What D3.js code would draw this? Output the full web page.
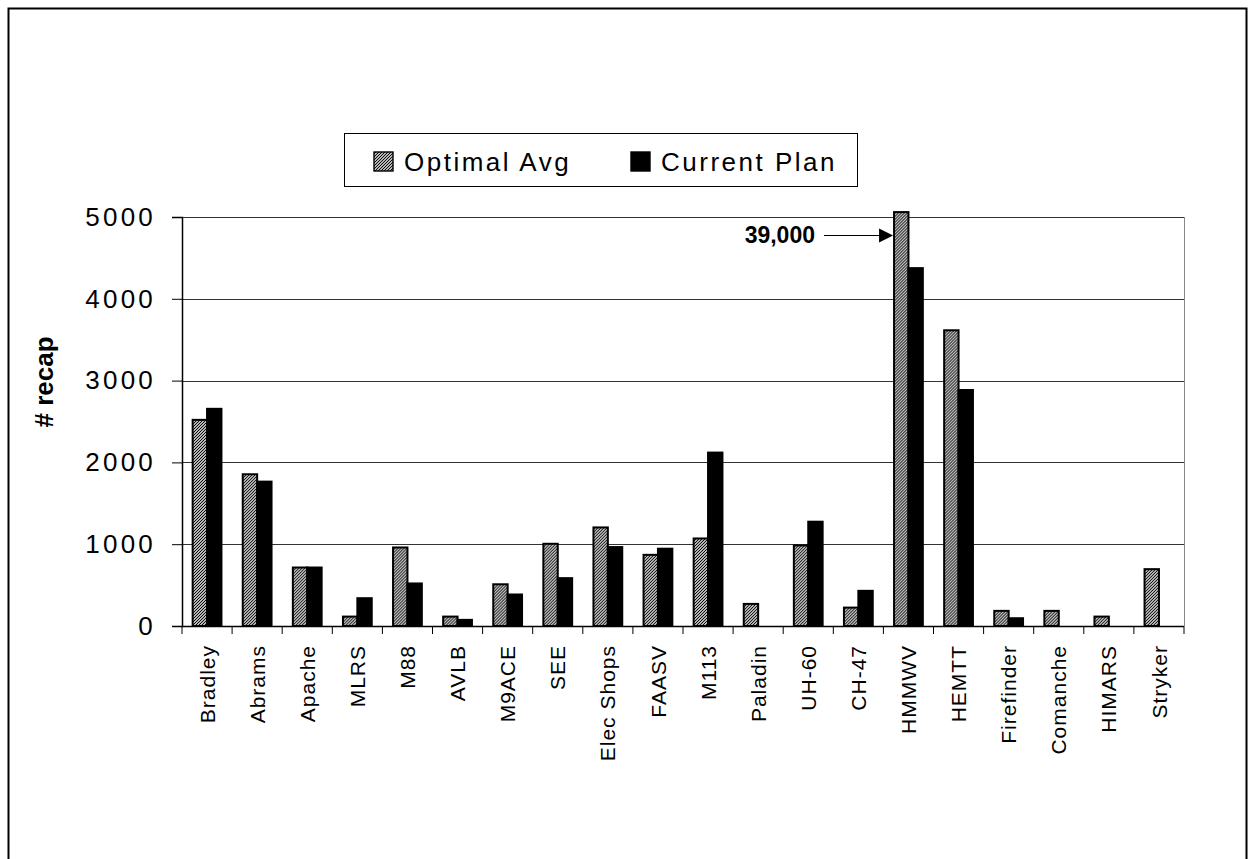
<!DOCTYPE html>
<html>
<head>
<meta charset="utf-8">
<script src="https://cdn.jsdelivr.net/npm/d3@7"></script>
<style>
  html, body { margin: 0; padding: 0; background: #fff; }
  svg { display: block; font-family: Arial, "Liberation Sans", sans-serif; }
</style>
</head>
<body>
<svg id="chart" width="1253" height="859"></svg>
<script>
// chart data
const categories = ["Bradley", "Abrams", "Apache", "MLRS", "M88", "AVLB", "M9ACE", "SEE", "Elec Shops", "FAASV",
                    "M113", "Paladin", "UH-60", "CH-47", "HMMWV", "HEMTT", "Firefinder", "Comanche", "HIMARS", "Stryker"];
const optimalAvg = [2520, 1855, 715, 115, 960, 115, 510, 1005, 1205, 870,
                    1070, 270, 985, 225, 39000, 3615, 185, 185, 115, 695];
const currentPlan = [2655, 1765, 715, 340, 520, 75, 385, 585, 965, 945,
                     2120, 0, 1275, 430, 4375, 2885, 95, 0, 0, 0];
const seriesNames = ["Optimal Avg", "Current Plan"];
const yTicks = [0, 1000, 2000, 3000, 4000, 5000];
const bigLabel = "39,000";

(function() {
  const svg = d3.select("#chart");

  // hatch pattern for the optimal bars
  const defs = svg.append("defs");
  const pat = defs.append("pattern")
    .attr("id", "hatch")
    .attr("patternUnits", "userSpaceOnUse")
    .attr("width", 3).attr("height", 3);
  pat.append("rect").attr("width", 3).attr("height", 3).attr("fill", "#fff");
  pat.append("path")
    .attr("d", "M-1,1 l2,-2 M0,3 l3,-3 M2,4 l2,-2")
    .attr("stroke", "#000").attr("stroke-width", 1.1);

  // outer frame
  svg.append("path")
    .attr("d", "M8.5,870 V8.5 H1246.5 V870")
    .attr("fill", "none").attr("stroke", "#000").attr("stroke-width", 2);

  const left = 182, right = 1184, top = 217, bottom = 626;

  const x = d3.scaleBand().domain(categories).range([left, right]).paddingInner(0).paddingOuter(0);
  const xs = d3.scaleBand().domain(seriesNames).range([0, x.bandwidth()]).paddingInner(0).paddingOuter(0.74);
  const y = d3.scaleLinear().domain([0, 5000]).range([bottom, top]);

  // gridlines
  svg.append("g").selectAll("line")
    .data(yTicks.filter(d => d > 0))
    .enter().append("line")
    .attr("x1", left).attr("x2", right)
    .attr("y1", d => Math.round(y(d)) + 0.5).attr("y2", d => Math.round(y(d)) + 0.5)
    .attr("stroke", "#333").attr("stroke-width", 1);

  // right edge of plot area
  svg.append("line")
    .attr("x1", right + 0.5).attr("x2", right + 0.5)
    .attr("y1", top).attr("y2", bottom)
    .attr("stroke", "#888").attr("stroke-width", 1);

  // bars
  const groups = svg.append("g").selectAll("g")
    .data(categories)
    .enter().append("g")
    .attr("transform", d => `translate(${x(d)},0)`);

  groups.append("rect")
    .attr("x", xs("Optimal Avg"))
    .attr("width", xs.bandwidth())
    .attr("y", (d, i) => Math.max(y(optimalAvg[i]), y(5060)))
    .attr("height", (d, i) => bottom - Math.max(y(optimalAvg[i]), y(5060)))
    .attr("fill", "url(#hatch)")
    .attr("stroke", "#000").attr("stroke-width", 2);

  groups.filter((d, i) => currentPlan[i] > 0).append("rect")
    .attr("x", xs("Current Plan"))
    .attr("width", xs.bandwidth())
    .attr("y", d => y(currentPlan[categories.indexOf(d)]))
    .attr("height", d => bottom - y(currentPlan[categories.indexOf(d)]))
    .attr("fill", "#000")
    .attr("stroke", "#000").attr("stroke-width", 2);

  // y axis
  const yAxis = d3.axisLeft(y).tickValues(yTicks).tickSize(10).tickPadding(16).tickFormat(d3.format("d"));
  const yg = svg.append("g").attr("transform", `translate(${left},0)`).call(yAxis);
  yg.select(".domain").attr("stroke", "#000").attr("stroke-width", 1.5);
  yg.selectAll(".tick line").attr("stroke", "#000");
  yg.selectAll(".tick text")
    .attr("fill", "#000")
    .style("font-size", "26px")
    .style("letter-spacing", "3.2px")
    .style("font-family", "Arial, 'Liberation Sans', sans-serif");

  // x axis line and ticks at category boundaries
  svg.append("line")
    .attr("x1", left).attr("x2", right)
    .attr("y1", bottom + 0.5).attr("y2", bottom + 0.5)
    .attr("stroke", "#000").attr("stroke-width", 1.5);
  const bounds = categories.map(c => x(c)).concat([right]);
  svg.append("g").selectAll("line")
    .data(bounds)
    .enter().append("line")
    .attr("x1", d => d).attr("x2", d => d)
    .attr("y1", bottom).attr("y2", bottom + 8)
    .attr("stroke", "#000").attr("stroke-width", 1);

  // category labels
  svg.append("g").selectAll("text")
    .data(categories)
    .enter().append("text")
    .attr("transform", d => `translate(${x(d) + x.bandwidth() / 2},645) rotate(-90)`)
    .attr("dy", "0.36em")
    .attr("text-anchor", "end")
    .style("font-size", "21px")
    .style("letter-spacing", "1px")
    .text(d => d);

  // y title
  svg.append("text")
    .attr("transform", "translate(44,382) rotate(-90)")
    .attr("dy", "0.36em")
    .attr("text-anchor", "middle")
    .style("font-size", "26px")
    .style("font-weight", "bold")
    .text("# recap");

  // legend
  const lg = svg.append("g");
  lg.append("rect")
    .attr("x", 344.5).attr("y", 133.5).attr("width", 513).attr("height", 53)
    .attr("fill", "#fff").attr("stroke", "#000").attr("stroke-width", 1);
  const legendX = [374, 631];
  seriesNames.forEach((s, i) => {
    lg.append("rect")
      .attr("x", legendX[i]).attr("y", 152).attr("width", 19).attr("height", 19)
      .attr("fill", i === 0 ? "url(#hatch)" : "#000")
      .attr("stroke", "#000").attr("stroke-width", 1.4);
    lg.append("text")
      .attr("x", legendX[i] + 30).attr("y", 171)
      .style("font-size", "26px")
      .style("letter-spacing", "2.5px")
      .text(s);
  });

  // annotation for the off-scale HMMWV bar
  const hx = x("HMMWV") + xs("Optimal Avg");
  const ay = 235;
  svg.append("text")
    .attr("x", 815).attr("y", ay).attr("dy", "0.36em")
    .attr("text-anchor", "end")
    .style("font-size", "23px")
    .style("font-weight", "bold")
    .text(bigLabel);
  svg.append("line")
    .attr("x1", 824).attr("x2", hx - 14)
    .attr("y1", ay + 0.5).attr("y2", ay + 0.5)
    .attr("stroke", "#000").attr("stroke-width", 1.2);
  svg.append("path")
    .attr("d", `M${hx - 15},${ay - 6.5} L${hx - 1},${ay + 0.5} L${hx - 15},${ay + 7.5} Z`)
    .attr("fill", "#000");
})();
</script>
</body>
</html>
